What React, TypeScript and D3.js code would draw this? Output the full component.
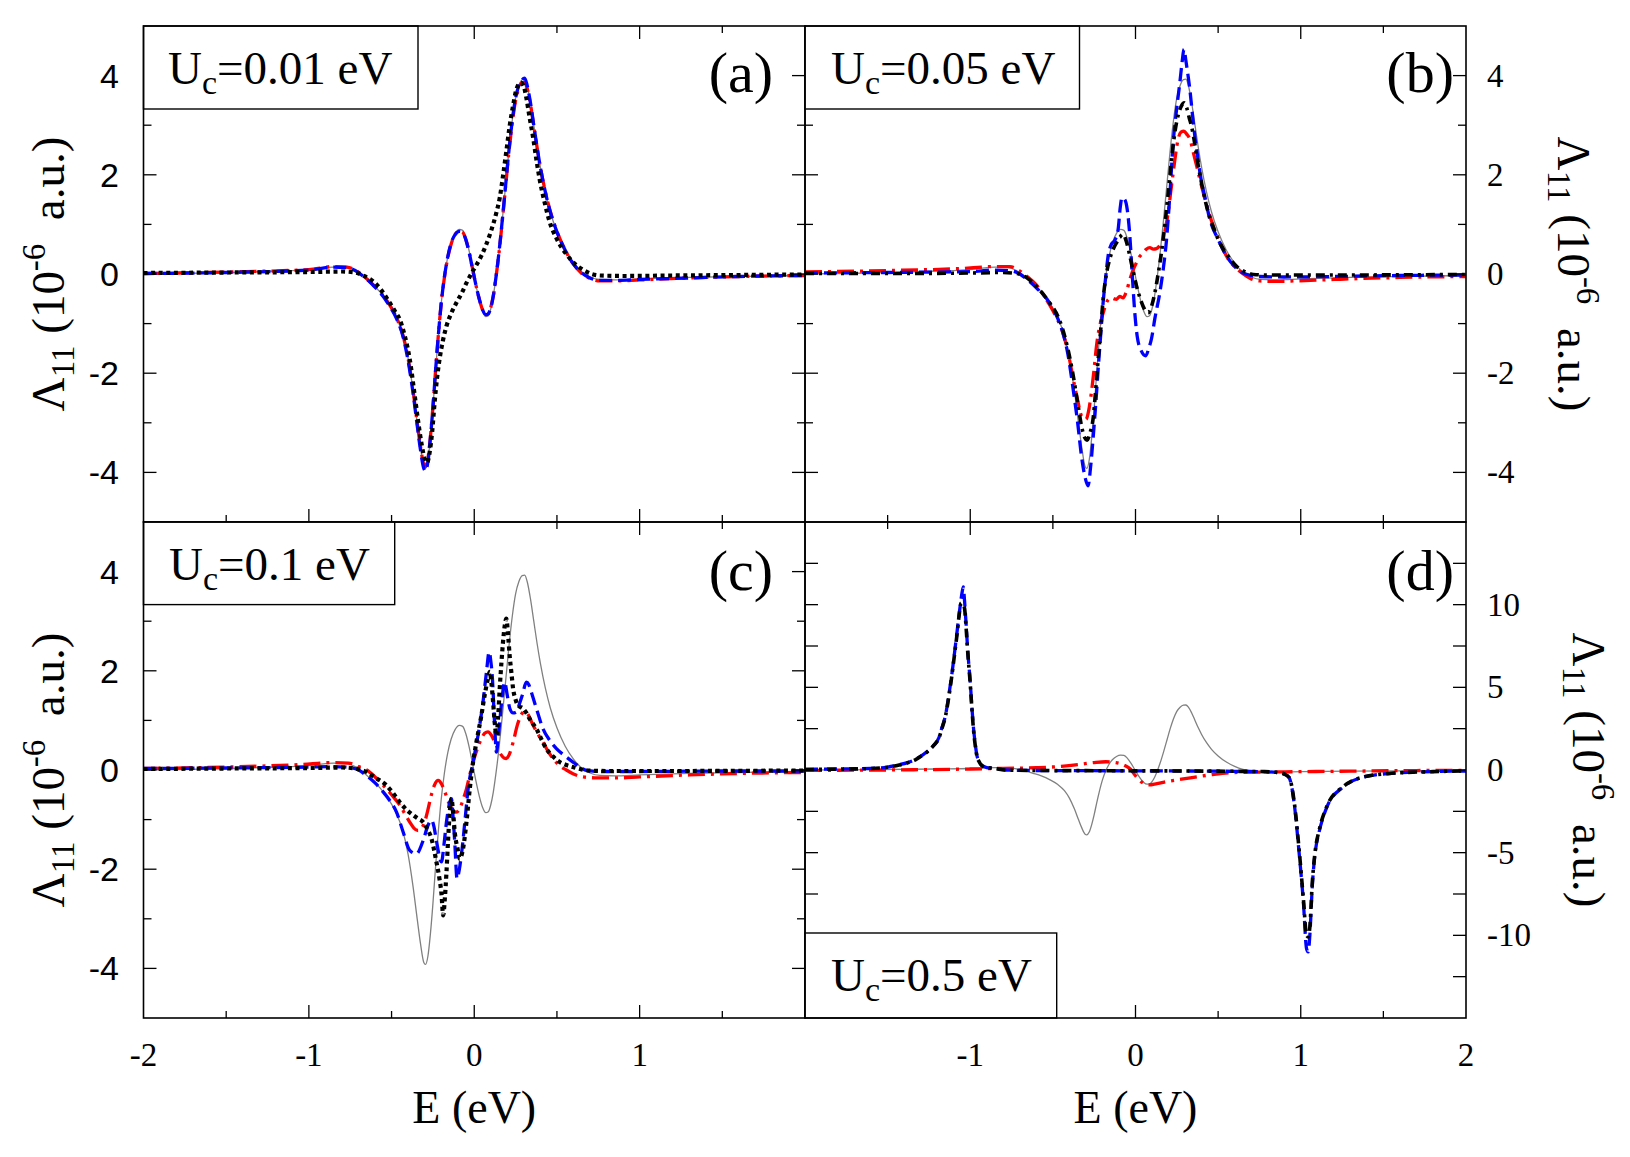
import React from "react";
import * as d3 from "d3";

type Pt = [number, number];

// ---------- axis ticks and labels ----------
const eMajor = [-1, 0, 1];
const eMinor = [-1.5, -0.5, 0.5, 1.5];
const eLabelsLeft = [-2, -1, 0, 1];
const eLabelsRight = [-1, 0, 1, 2];
const ySmallMajor = [-4, -2, 0, 2, 4];
const ySmallMinor = [-3, -1, 1, 3];
const yLargeMajor = [-10, -5, 0, 5, 10];
const yLargeMinor = [-12.5, -7.5, -2.5, 2.5, 7.5, 12.5];
const panelLetters = ["(a)", "(b)", "(c)", "(d)"];
const ucValues = ["0.01", "0.05", "0.1", "0.5"];

// ---------- thin grey reference curve (shown in every panel) ----------
const refCurve: Pt[] = [
  [-2.0, 0.0], [-1.6, 0.02], [-1.2, 0.06], [-1.0, 0.09], [-0.85, 0.14], [-0.77, 0.13],
  [-0.72, 0.07], [-0.67, -0.05], [-0.62, -0.2], [-0.57, -0.36], [-0.52, -0.58], [-0.47, -0.88],
  [-0.43, -1.25], [-0.4, -1.7], [-0.37, -2.35], [-0.345, -3.0], [-0.325, -3.5], [-0.305, -3.88],
  [-0.295, -3.92], [-0.28, -3.75], [-0.265, -3.3], [-0.25, -2.7], [-0.235, -2.0], [-0.22, -1.35],
  [-0.2, -0.6], [-0.18, -0.05], [-0.16, 0.35], [-0.14, 0.62], [-0.115, 0.82], [-0.09, 0.9],
  [-0.07, 0.88], [-0.05, 0.72], [-0.03, 0.45], [-0.01, 0.12], [0.01, -0.22], [0.03, -0.52],
  [0.05, -0.75], [0.07, -0.86], [0.085, -0.84], [0.1, -0.7], [0.115, -0.45], [0.13, -0.1],
  [0.15, 0.45], [0.17, 1.1], [0.19, 1.8], [0.21, 2.5], [0.23, 3.1], [0.25, 3.55], [0.27, 3.8],
  [0.29, 3.92], [0.305, 3.93], [0.32, 3.8], [0.34, 3.45], [0.36, 3.0], [0.38, 2.55], [0.4, 2.15],
  [0.43, 1.65], [0.46, 1.25], [0.5, 0.85], [0.55, 0.48], [0.6, 0.22], [0.65, 0.04], [0.7, -0.06],
  [0.76, -0.11], [0.85, -0.12], [1.0, -0.1], [1.3, -0.07], [1.6, -0.05], [2.0, -0.03],
];

// ---------- panel (a): Uc = 0.01 eV ----------
const redA: Pt[] = [
  [-2.0, 0.01], [-1.5, 0.04], [-1.0, 0.09], [-0.85, 0.15], [-0.77, 0.14], [-0.72, 0.08],
  [-0.67, -0.04], [-0.62, -0.19], [-0.57, -0.36], [-0.52, -0.58], [-0.47, -0.88], [-0.43, -1.25],
  [-0.4, -1.7], [-0.37, -2.35], [-0.345, -3.0], [-0.325, -3.48], [-0.305, -3.84], [-0.295, -3.88],
  [-0.28, -3.72], [-0.265, -3.28], [-0.25, -2.68], [-0.235, -2.0], [-0.22, -1.35], [-0.2, -0.6],
  [-0.18, -0.06], [-0.16, 0.33], [-0.14, 0.6], [-0.115, 0.8], [-0.09, 0.86], [-0.07, 0.84],
  [-0.05, 0.69], [-0.03, 0.43], [-0.01, 0.1], [0.01, -0.22], [0.03, -0.5], [0.05, -0.72],
  [0.07, -0.82], [0.085, -0.8], [0.1, -0.67], [0.115, -0.44], [0.13, -0.1], [0.15, 0.43],
  [0.17, 1.08], [0.19, 1.78], [0.21, 2.47], [0.23, 3.05], [0.25, 3.5], [0.27, 3.75], [0.29, 3.86],
  [0.305, 3.86], [0.32, 3.74], [0.34, 3.42], [0.36, 2.98], [0.38, 2.55], [0.4, 2.15], [0.43, 1.66],
  [0.46, 1.26], [0.5, 0.86], [0.55, 0.48], [0.6, 0.2], [0.65, 0.01], [0.7, -0.09], [0.76, -0.14],
  [0.85, -0.14], [1.0, -0.12], [1.3, -0.08], [1.6, -0.05], [2.0, -0.03],
];
const blueA: Pt[] = [
  [-2.0, 0.01], [-1.5, 0.03], [-1.0, 0.08], [-0.85, 0.14], [-0.77, 0.13], [-0.72, 0.07],
  [-0.67, -0.05], [-0.62, -0.2], [-0.57, -0.37], [-0.52, -0.6], [-0.47, -0.9], [-0.43, -1.27],
  [-0.4, -1.75], [-0.37, -2.4], [-0.345, -3.05], [-0.325, -3.55], [-0.305, -3.92], [-0.295, -3.97],
  [-0.28, -3.78], [-0.265, -3.3], [-0.25, -2.7], [-0.235, -2.0], [-0.22, -1.35], [-0.2, -0.6],
  [-0.18, -0.05], [-0.16, 0.35], [-0.14, 0.62], [-0.115, 0.8], [-0.09, 0.86], [-0.07, 0.84],
  [-0.05, 0.68], [-0.03, 0.42], [-0.01, 0.1], [0.01, -0.22], [0.03, -0.5], [0.05, -0.72],
  [0.07, -0.82], [0.085, -0.8], [0.1, -0.68], [0.115, -0.45], [0.13, -0.1], [0.15, 0.45],
  [0.17, 1.1], [0.19, 1.8], [0.21, 2.5], [0.23, 3.1], [0.25, 3.55], [0.27, 3.8], [0.29, 3.92],
  [0.305, 3.95], [0.32, 3.8], [0.34, 3.45], [0.36, 3.0], [0.38, 2.55], [0.4, 2.15], [0.43, 1.65],
  [0.46, 1.25], [0.5, 0.85], [0.55, 0.48], [0.6, 0.2], [0.65, 0.02], [0.7, -0.08], [0.76, -0.13],
  [0.85, -0.13], [1.0, -0.11], [1.3, -0.08], [1.6, -0.05], [2.0, -0.03],
];
const blackA: Pt[] = [
  [-2.0, 0.02], [-1.5, 0.03], [-1.0, 0.04], [-0.8, 0.05], [-0.72, 0.03], [-0.66, -0.05],
  [-0.6, -0.18], [-0.53, -0.48], [-0.48, -0.75], [-0.45, -0.92], [-0.42, -1.25], [-0.39, -1.72],
  [-0.36, -2.45], [-0.34, -2.95], [-0.32, -3.4], [-0.3, -3.72], [-0.285, -3.8], [-0.27, -3.6],
  [-0.255, -3.2], [-0.24, -2.6], [-0.225, -2.1], [-0.21, -1.72], [-0.19, -1.35], [-0.168, -1.05],
  [-0.14, -0.8], [-0.108, -0.58], [-0.075, -0.38], [-0.047, -0.18], [-0.015, 0.02], [0.013, 0.18],
  [0.045, 0.38], [0.073, 0.6], [0.1, 0.85], [0.134, 1.24], [0.155, 1.55], [0.174, 1.98],
  [0.195, 2.5], [0.214, 2.98], [0.235, 3.4], [0.255, 3.72], [0.28, 3.86], [0.298, 3.8],
  [0.315, 3.55], [0.335, 3.15], [0.356, 2.75], [0.376, 2.3], [0.396, 1.9], [0.425, 1.45],
  [0.456, 1.05], [0.5, 0.7], [0.557, 0.4], [0.61, 0.2], [0.66, 0.08], [0.71, 0.0], [0.76, -0.03],
  [0.9, -0.04], [1.2, -0.03], [1.6, -0.02], [2.0, -0.01],
];

// ---------- panel (b): Uc = 0.05 eV ----------
const redB: Pt[] = [
  [-2.0, 0.04], [-1.5, 0.07], [-1.06, 0.11], [-0.85, 0.15], [-0.76, 0.15], [-0.7, 0.06],
  [-0.66, -0.04], [-0.6, -0.22], [-0.54, -0.51], [-0.49, -0.8], [-0.44, -1.18], [-0.41, -1.55],
  [-0.38, -2.06], [-0.35, -2.55], [-0.327, -2.86], [-0.3, -2.93], [-0.283, -2.75], [-0.267, -2.39],
  [-0.25, -1.9], [-0.236, -1.45], [-0.22, -1.1], [-0.206, -0.91], [-0.19, -0.72], [-0.176, -0.58],
  [-0.16, -0.5], [-0.146, -0.48], [-0.13, -0.5], [-0.115, -0.51], [-0.095, -0.45], [-0.075, -0.48],
  [-0.055, -0.35], [-0.034, -0.11], [-0.015, 0.08], [0.006, 0.23], [0.025, 0.35], [0.046, 0.43],
  [0.065, 0.5], [0.087, 0.53], [0.107, 0.5], [0.127, 0.51], [0.148, 0.58], [0.167, 0.7],
  [0.183, 0.95], [0.198, 1.24], [0.213, 1.65], [0.228, 2.04], [0.243, 2.42], [0.258, 2.72],
  [0.275, 2.86], [0.293, 2.88], [0.31, 2.82], [0.329, 2.72], [0.35, 2.45], [0.37, 2.18],
  [0.39, 1.9], [0.41, 1.64], [0.44, 1.28], [0.47, 0.97], [0.51, 0.65], [0.551, 0.36], [0.6, 0.15],
  [0.652, 0.0], [0.7, -0.1], [0.753, -0.14], [0.85, -0.15], [0.955, -0.14], [1.2, -0.11],
  [1.6, -0.07], [2.0, -0.05],
];
const blueB: Pt[] = [
  [-2.0, 0.02], [-1.5, 0.03], [-1.0, 0.05], [-0.85, 0.08], [-0.75, 0.06], [-0.7, 0.0],
  [-0.66, -0.1], [-0.6, -0.28], [-0.52, -0.58], [-0.47, -0.9], [-0.44, -1.18], [-0.41, -1.6],
  [-0.38, -2.26], [-0.35, -3.0], [-0.327, -3.67], [-0.305, -4.1], [-0.287, -4.27], [-0.272, -3.9],
  [-0.257, -3.33], [-0.24, -2.6], [-0.226, -1.92], [-0.21, -1.2], [-0.196, -0.58], [-0.18, -0.05],
  [-0.166, 0.36], [-0.146, 0.6], [-0.125, 0.68], [-0.105, 0.9], [-0.092, 1.35], [-0.082, 1.54],
  [-0.065, 1.5], [-0.05, 1.3], [-0.035, 0.8], [-0.02, 0.0], [-0.005, -0.75], [0.01, -1.25],
  [0.035, -1.55], [0.062, -1.65], [0.08, -1.5], [0.097, -1.3], [0.117, -0.9], [0.147, -0.38],
  [0.168, 0.1], [0.188, 0.7], [0.208, 1.6], [0.228, 2.65], [0.248, 3.3], [0.268, 3.85],
  [0.283, 4.3], [0.293, 4.53], [0.305, 4.3], [0.318, 4.0], [0.329, 3.72], [0.345, 3.2],
  [0.359, 2.78], [0.375, 2.4], [0.39, 2.04], [0.42, 1.55], [0.45, 1.1], [0.5, 0.7], [0.551, 0.36],
  [0.6, 0.15], [0.652, 0.02], [0.7, -0.03], [0.753, -0.05], [0.9, -0.06], [1.2, -0.05],
  [1.6, -0.03], [2.0, -0.02],
];
const blackB: Pt[] = [
  [-2.0, 0.01], [-1.5, 0.01], [-1.0, 0.02], [-0.8, 0.03], [-0.72, 0.01], [-0.66, -0.07],
  [-0.6, -0.25], [-0.52, -0.58], [-0.47, -0.85], [-0.44, -1.12], [-0.41, -1.5], [-0.38, -1.99],
  [-0.35, -2.6], [-0.327, -3.06], [-0.31, -3.28], [-0.293, -3.35], [-0.275, -3.2], [-0.257, -2.93],
  [-0.24, -2.3], [-0.226, -1.72], [-0.21, -1.1], [-0.196, -0.51], [-0.176, 0.0], [-0.156, 0.3],
  [-0.135, 0.5], [-0.115, 0.63], [-0.095, 0.74], [-0.075, 0.8], [-0.055, 0.65], [-0.034, 0.36],
  [-0.014, 0.05], [0.006, -0.24], [0.026, -0.47], [0.046, -0.65], [0.062, -0.75], [0.077, -0.78],
  [0.097, -0.65], [0.117, -0.38], [0.137, 0.0], [0.157, 0.43], [0.178, 1.0], [0.198, 1.64],
  [0.218, 2.3], [0.238, 2.85], [0.258, 3.2], [0.278, 3.39], [0.295, 3.45], [0.31, 3.35],
  [0.325, 3.15], [0.339, 2.98], [0.36, 2.6], [0.38, 2.18], [0.405, 1.75], [0.43, 1.37],
  [0.47, 0.95], [0.51, 0.63], [0.56, 0.36], [0.61, 0.16], [0.66, 0.05], [0.713, -0.01],
  [0.8, -0.02], [1.2, -0.02], [2.0, -0.01],
];

// ---------- panel (c): Uc = 0.1 eV ----------
const redC: Pt[] = [
  [-2.0, 0.03], [-1.5, 0.06], [-1.05, 0.11], [-0.85, 0.15], [-0.76, 0.14], [-0.7, 0.07],
  [-0.65, 0.0], [-0.6, -0.14], [-0.55, -0.31], [-0.5, -0.5], [-0.45, -0.71], [-0.42, -0.88],
  [-0.39, -1.05], [-0.365, -1.17], [-0.34, -1.22], [-0.32, -1.18], [-0.3, -1.05], [-0.28, -0.8],
  [-0.26, -0.51], [-0.24, -0.3], [-0.218, -0.21], [-0.198, -0.28], [-0.178, -0.44], [-0.155, -0.65],
  [-0.128, -0.82], [-0.108, -0.85], [-0.088, -0.78], [-0.068, -0.6], [-0.047, -0.38], [-0.027, -0.1],
  [-0.007, 0.16], [0.018, 0.42], [0.043, 0.63], [0.063, 0.74], [0.083, 0.77], [0.104, 0.7],
  [0.124, 0.56], [0.144, 0.42], [0.164, 0.3], [0.18, 0.24], [0.194, 0.23], [0.21, 0.3],
  [0.235, 0.56], [0.26, 0.9], [0.285, 1.12], [0.305, 1.18], [0.325, 1.12], [0.356, 0.9],
  [0.386, 0.72], [0.416, 0.56], [0.446, 0.38], [0.476, 0.23], [0.52, 0.08], [0.557, 0.0],
  [0.6, -0.08], [0.66, -0.14], [0.75, -0.16], [0.86, -0.16], [1.0, -0.14], [1.3, -0.1],
  [1.6, -0.07], [2.0, -0.05],
];
const blueC: Pt[] = [
  [-2.0, 0.03], [-1.5, 0.04], [-1.0, 0.06], [-0.85, 0.07], [-0.75, 0.05], [-0.7, 0.0],
  [-0.652, -0.11], [-0.6, -0.26], [-0.551, -0.44], [-0.51, -0.62], [-0.47, -0.85], [-0.43, -1.25],
  [-0.39, -1.62], [-0.35, -1.69], [-0.309, -1.42], [-0.28, -1.12], [-0.259, -1.01], [-0.243, -1.15],
  [-0.229, -1.42], [-0.198, -1.85], [-0.183, -1.5], [-0.168, -1.05], [-0.138, -0.58], [-0.128, -0.95],
  [-0.118, -1.45], [-0.104, -2.19], [-0.09, -2.0], [-0.078, -1.72], [-0.057, -1.05], [-0.037, -0.38],
  [-0.007, 0.16], [0.023, 0.7], [0.053, 1.37], [0.074, 1.98], [0.09, 2.38], [0.1, 2.2],
  [0.11, 1.84], [0.122, 1.0], [0.134, 0.36], [0.144, 0.6], [0.154, 0.97], [0.17, 1.5],
  [0.184, 1.77], [0.2, 1.5], [0.215, 1.24], [0.235, 1.15], [0.255, 1.17], [0.275, 1.35],
  [0.291, 1.51], [0.315, 1.77], [0.33, 1.72], [0.345, 1.57], [0.376, 1.24], [0.416, 0.83],
  [0.456, 0.6], [0.497, 0.43], [0.55, 0.28], [0.597, 0.16], [0.64, 0.06], [0.678, -0.01],
  [0.75, -0.03], [1.0, -0.03], [1.5, -0.02], [2.0, -0.02],
];
const blackC: Pt[] = [
  [-2.0, 0.02], [-1.5, 0.03], [-1.0, 0.04], [-0.8, 0.05], [-0.72, 0.03], [-0.652, -0.04],
  [-0.6, -0.15], [-0.531, -0.31], [-0.49, -0.47], [-0.45, -0.65], [-0.41, -0.8], [-0.37, -0.91],
  [-0.34, -0.98], [-0.309, -1.05], [-0.285, -1.18], [-0.259, -1.38], [-0.229, -1.85], [-0.21, -2.2],
  [-0.198, -2.5], [-0.188, -2.93], [-0.178, -2.6], [-0.168, -2.06], [-0.158, -1.4], [-0.148, -0.85],
  [-0.138, -0.58], [-0.128, -0.85], [-0.118, -1.25], [-0.1, -1.6], [-0.088, -1.79], [-0.068, -1.59],
  [-0.047, -1.05], [-0.027, -0.38], [-0.007, 0.16], [0.013, 0.56], [0.043, 1.1], [0.063, 1.51],
  [0.08, 1.8], [0.094, 1.98], [0.104, 1.75], [0.114, 1.37], [0.124, 0.95], [0.134, 0.7],
  [0.144, 1.05], [0.154, 1.64], [0.164, 2.15], [0.174, 2.58], [0.184, 2.9], [0.194, 3.05],
  [0.204, 2.75], [0.214, 2.31], [0.225, 1.95], [0.235, 1.64], [0.25, 1.42], [0.265, 1.3],
  [0.295, 1.24], [0.315, 1.15], [0.335, 1.03], [0.376, 0.83], [0.406, 0.62], [0.436, 0.43],
  [0.477, 0.27], [0.517, 0.16], [0.557, 0.1], [0.597, 0.06], [0.64, 0.02], [0.678, -0.01],
  [0.8, -0.02], [1.2, -0.02], [2.0, -0.01],
];

// ---------- panel (d): Uc = 0.5 eV ----------
const redD: Pt[] = [
  [-2.0, -0.02], [-1.5, 0.0], [-1.0, 0.06], [-0.8, 0.1], [-0.6, 0.14], [-0.45, 0.22],
  [-0.35, 0.32], [-0.25, 0.45], [-0.18, 0.5], [-0.12, 0.45], [-0.07, 0.3], [-0.03, 0.05],
  [0.0, -0.35], [0.04, -0.75], [0.08, -0.9], [0.13, -0.82], [0.2, -0.68], [0.3, -0.52],
  [0.45, -0.3], [0.6, -0.15], [0.8, -0.12], [1.0, -0.1], [1.3, -0.07], [1.6, -0.04], [2.0, -0.02],
];
const blueD: Pt[] = [
  [-2.0, 0.04], [-1.8, 0.06], [-1.6, 0.1], [-1.5, 0.18], [-1.43, 0.32], [-1.38, 0.45],
  [-1.33, 0.65], [-1.29, 0.9], [-1.25, 1.2], [-1.22, 1.5], [-1.19, 1.95], [-1.17, 2.6],
  [-1.15, 3.3], [-1.13, 4.5], [-1.11, 5.9], [-1.095, 7.1], [-1.08, 8.35], [-1.07, 9.2],
  [-1.06, 10.0], [-1.05, 10.7], [-1.042, 11.07], [-1.035, 10.3], [-1.025, 8.8], [-1.015, 7.2],
  [-1.0, 5.3], [-0.99, 3.8], [-0.98, 2.5], [-0.97, 1.6], [-0.96, 0.9], [-0.945, 0.5],
  [-0.93, 0.28], [-0.9, 0.15], [-0.87, 0.12], [-0.84, 0.08], [-0.79, 0.0], [-0.6, -0.03],
  [-0.3, -0.04], [0.0, -0.05], [0.3, -0.06], [0.6, -0.08], [0.78, -0.1], [0.85, -0.15],
  [0.9, -0.25], [0.93, -0.47], [0.96, -2.0], [0.99, -5.0], [1.016, -8.0], [1.035, -10.8],
  [1.045, -11.0], [1.055, -10.0], [1.07, -7.0], [1.09, -4.8], [1.11, -3.8], [1.16, -2.2],
  [1.26, -1.0], [1.39, -0.4], [1.55, -0.2], [1.8, -0.1], [2.0, -0.06],
];
const blackD: Pt[] = [
  [-2.0, 0.03], [-1.8, 0.05], [-1.6, 0.09], [-1.5, 0.17], [-1.43, 0.3], [-1.38, 0.43],
  [-1.33, 0.63], [-1.29, 0.88], [-1.25, 1.18], [-1.22, 1.5], [-1.19, 1.92], [-1.17, 2.55],
  [-1.15, 3.25], [-1.13, 4.4], [-1.11, 5.8], [-1.095, 7.0], [-1.08, 8.2], [-1.068, 9.3],
  [-1.055, 10.1], [-1.045, 10.0], [-1.035, 9.8], [-1.025, 8.6], [-1.015, 7.1], [-1.0, 5.2],
  [-0.99, 3.7], [-0.98, 2.4], [-0.97, 1.5], [-0.96, 0.85], [-0.945, 0.48], [-0.93, 0.27],
  [-0.9, 0.14], [-0.87, 0.12], [-0.84, 0.07], [-0.79, 0.0], [-0.6, -0.03], [-0.3, -0.04],
  [0.0, -0.05], [0.3, -0.06], [0.6, -0.08], [0.78, -0.1], [0.85, -0.14], [0.9, -0.24],
  [0.93, -0.45], [0.96, -1.9], [0.99, -4.8], [1.016, -7.8], [1.035, -10.0], [1.045, -10.1],
  [1.055, -9.5], [1.07, -6.8], [1.09, -4.7], [1.11, -3.7], [1.16, -2.15], [1.26, -0.98],
  [1.39, -0.4], [1.55, -0.2], [1.8, -0.1], [2.0, -0.06],
];

// ---------- styles ----------
const SERIF = "'Liberation Serif', 'Times New Roman', Times, serif";
const SANS = "'Liberation Sans', Arial, Helvetica, sans-serif";

const STYLE_GREY = { stroke: "#808080", width: 1.3, dash: "none" };
const STYLE_RED = { stroke: "#ff0000", width: 3.3, dash: "17,6,3,6" };
const STYLE_BLUE = { stroke: "#0000ff", width: 3.3, dash: "13,6" };
const STYLE_DOT = { stroke: "#000000", width: 4.2, dash: "4,3.6" };
const STYLE_DASHDOT = { stroke: "#000000", width: 3.6, dash: "9,5,3,5" };

// frame geometry
const X0 = 143.5, X1 = 805, X2 = 1466;
const Y0 = 26, Y1 = 522, Y2 = 1018;

type Series = { data: Pt[]; style: { stroke: string; width: number; dash: string } };
type PanelDef = {
  key: string;
  left: number; right: number; top: number; bottom: number;
  yDomain: [number, number];
  yMajor: number[]; yMinor: number[]; minorLen: number;
  side: "left" | "right";
  series: Series[];
  letter: string; letterX: number; letterY: number;
  box: { x0: number; y0: number; x1: number; y1: number; tx: number; ty: number };
  uc: string;
  yLabels: number[];
  titleX: number;
};

function UcText({ x, y, v }: { x: number; y: number; v: string }) {
  return (
    <text x={x} y={y} fontFamily={SERIF} fontSize={47} fill="#000">
      <tspan>U</tspan>
      <tspan dy={10} fontSize={34}>c</tspan>
      <tspan dy={-10}>{`=${v} eV`}</tspan>
    </text>
  );
}

function YTitle({ x, y, rot }: { x: number; y: number; rot: number }) {
  return (
    <text
      transform={`translate(${x},${y}) rotate(${rot})`}
      textAnchor="middle"
      fontFamily={SERIF}
      fontSize={47}
      fill="#000"
    >
      <tspan>Λ</tspan>
      <tspan dy={10} fontSize={33}>11</tspan>
      <tspan dy={-10}>{"\u00a0(10"}</tspan>
      <tspan dy={-19} fontSize={33}>-6</tspan>
      <tspan dy={19}>{"\u00a0\u00a0a.u.)"}</tspan>
    </text>
  );
}

function Panel({ p }: { p: PanelDef }) {
  const x = d3.scaleLinear().domain([-2, 2]).range([p.left, p.right]);
  const y = d3.scaleLinear().domain(p.yDomain).range([p.bottom, p.top]);
  const line = d3
    .line<Pt>()
    .x((d) => x(d[0]))
    .y((d) => y(d[1]))
    .curve(d3.curveMonotoneX);
  const clipId = `clip-${p.key}`;
  const tickColor = "#000";
  const tw = 1.3;

  return (
    <g>
      <defs>
        <clipPath id={clipId}>
          <rect x={p.left} y={p.top} width={p.right - p.left} height={p.bottom - p.top} />
        </clipPath>
      </defs>

      <g clipPath={`url(#${clipId})`}>
        {p.series.map((s, i) => (
          <path
            key={i}
            d={line(s.data) || ""}
            fill="none"
            stroke={s.style.stroke}
            strokeWidth={s.style.width}
            strokeDasharray={s.style.dash}
            strokeLinejoin="round"
          />
        ))}
      </g>

      {/* x ticks, bottom and top edges */}
      {eMajor.map((e) => (
        <g key={`xm${e}`} stroke={tickColor} strokeWidth={tw}>
          <line x1={x(e)} x2={x(e)} y1={p.bottom} y2={p.bottom - 13} />
          <line x1={x(e)} x2={x(e)} y1={p.top} y2={p.top + 13} />
        </g>
      ))}
      {eMinor.map((e) => (
        <g key={`xn${e}`} stroke={tickColor} strokeWidth={tw}>
          <line x1={x(e)} x2={x(e)} y1={p.bottom} y2={p.bottom - 7} />
          <line x1={x(e)} x2={x(e)} y1={p.top} y2={p.top + 7} />
        </g>
      ))}

      {/* y ticks, left and right edges */}
      {p.yMajor.map((v) => (
        <g key={`ym${v}`} stroke={tickColor} strokeWidth={tw}>
          <line x1={p.left} x2={p.left + 13} y1={y(v)} y2={y(v)} />
          <line x1={p.right} x2={p.right - 13} y1={y(v)} y2={y(v)} />
        </g>
      ))}
      {p.yMinor.map((v) => (
        <g key={`yn${v}`} stroke={tickColor} strokeWidth={tw}>
          <line x1={p.left} x2={p.left + p.minorLen} y1={y(v)} y2={y(v)} />
          <line x1={p.right} x2={p.right - p.minorLen} y1={y(v)} y2={y(v)} />
        </g>
      ))}

      {/* y tick labels */}
      {p.yLabels.map((v) =>
        p.side === "left" ? (
          <text
            key={`yl${v}`}
            x={119}
            y={y(v) + 12}
            textAnchor="end"
            fontFamily={SANS}
            fontSize={34}
            fill="#000"
          >
            {String(v)}
          </text>
        ) : (
          <text
            key={`yl${v}`}
            x={1487}
            y={y(v) + 11}
            textAnchor="start"
            fontFamily={SERIF}
            fontSize={33}
            fill="#000"
          >
            {String(v)}
          </text>
        )
      )}

      {/* Uc label box */}
      <rect
        x={p.box.x0}
        y={p.box.y0}
        width={p.box.x1 - p.box.x0}
        height={p.box.y1 - p.box.y0}
        fill="#fff"
        stroke="#000"
        strokeWidth={1.4}
      />
      <UcText x={p.box.tx} y={p.box.ty} v={p.uc} />

      {/* panel letter */}
      <text
        x={p.letterX}
        y={p.letterY}
        textAnchor="end"
        fontFamily={SERIF}
        fontSize={58}
        fill="#000"
      >
        {p.letter}
      </text>

      {/* frame */}
      <rect
        x={p.left}
        y={p.top}
        width={p.right - p.left}
        height={p.bottom - p.top}
        fill="none"
        stroke="#000"
        strokeWidth={1.6}
      />

      <YTitle
        x={p.titleX}
        y={(p.top + p.bottom) / 2}
        rot={p.side === "left" ? -90 : 90}
      />
    </g>
  );
}

export default function App() {
  const panels: PanelDef[] = [
    {
      key: "a", left: X0, right: X1, top: Y0, bottom: Y1,
      yDomain: [-5, 5], yMajor: ySmallMajor, yMinor: ySmallMinor, minorLen: 8,
      side: "left",
      series: [
        { data: refCurve, style: STYLE_GREY },
        { data: redA, style: STYLE_RED },
        { data: blueA, style: STYLE_BLUE },
        { data: blackA, style: STYLE_DOT },
      ],
      letter: panelLetters[0], letterX: 773, letterY: 92,
      box: { x0: X0, y0: Y0, x1: 418, y1: 109, tx: 168, ty: 84 },
      uc: ucValues[0], yLabels: ySmallMajor, titleX: 64,
    },
    {
      key: "b", left: X1, right: X2, top: Y0, bottom: Y1,
      yDomain: [-5, 5], yMajor: ySmallMajor, yMinor: ySmallMinor, minorLen: 8,
      side: "right",
      series: [
        { data: refCurve, style: STYLE_GREY },
        { data: redB, style: STYLE_RED },
        { data: blueB, style: STYLE_BLUE },
        { data: blackB, style: STYLE_DASHDOT },
      ],
      letter: panelLetters[1], letterX: 1454, letterY: 92,
      box: { x0: X1, y0: Y0, x1: 1079.5, y1: 109, tx: 831, ty: 84 },
      uc: ucValues[1], yLabels: ySmallMajor, titleX: 1558,
    },
    {
      key: "c", left: X0, right: X1, top: Y1, bottom: Y2,
      yDomain: [-5, 5], yMajor: ySmallMajor, yMinor: ySmallMinor, minorLen: 8,
      side: "left",
      series: [
        { data: refCurve, style: STYLE_GREY },
        { data: redC, style: STYLE_RED },
        { data: blueC, style: STYLE_BLUE },
        { data: blackC, style: STYLE_DOT },
      ],
      letter: panelLetters[2], letterX: 773, letterY: 590,
      box: { x0: X0, y0: Y1, x1: 394.7, y1: 604.6, tx: 169, ty: 580 },
      uc: ucValues[2], yLabels: ySmallMajor, titleX: 64,
    },
    {
      key: "d", left: X1, right: X2, top: Y1, bottom: Y2,
      yDomain: [-15, 15], yMajor: yLargeMajor, yMinor: yLargeMinor, minorLen: 13,
      side: "right",
      series: [
        { data: refCurve, style: STYLE_GREY },
        { data: redD, style: STYLE_RED },
        { data: blueD, style: STYLE_BLUE },
        { data: blackD, style: STYLE_DASHDOT },
      ],
      letter: panelLetters[3], letterX: 1454, letterY: 590,
      box: { x0: X1, y0: 933, x1: 1056.7, y1: Y2, tx: 831, ty: 991 },
      uc: ucValues[3], yLabels: yLargeMajor, titleX: 1573,
    },
  ];

  const xLeft = d3.scaleLinear().domain([-2, 2]).range([X0, X1]);
  const xRight = d3.scaleLinear().domain([-2, 2]).range([X1, X2]);

  return (
    <svg
      width={1630}
      height={1157}
      style={{ position: "absolute", left: 0, top: 0, display: "block", background: "#fff" }}
    >
      <rect x={0} y={0} width={1630} height={1157} fill="#fff" />
      {panels.map((p) => (
        <Panel key={p.key} p={p} />
      ))}

      {eLabelsLeft.map((e) => (
        <text key={`bl${e}`} x={xLeft(e)} y={1066} textAnchor="middle" fontFamily={SERIF} fontSize={33}>
          {String(e)}
        </text>
      ))}
      {eLabelsRight.map((e) => (
        <text key={`br${e}`} x={xRight(e)} y={1066} textAnchor="middle" fontFamily={SERIF} fontSize={33}>
          {String(e)}
        </text>
      ))}

      <text x={xLeft(0)} y={1123} textAnchor="middle" fontFamily={SERIF} fontSize={46}>
        E (eV)
      </text>
      <text x={xRight(0)} y={1123} textAnchor="middle" fontFamily={SERIF} fontSize={46}>
        E (eV)
      </text>
    </svg>
  );
}
